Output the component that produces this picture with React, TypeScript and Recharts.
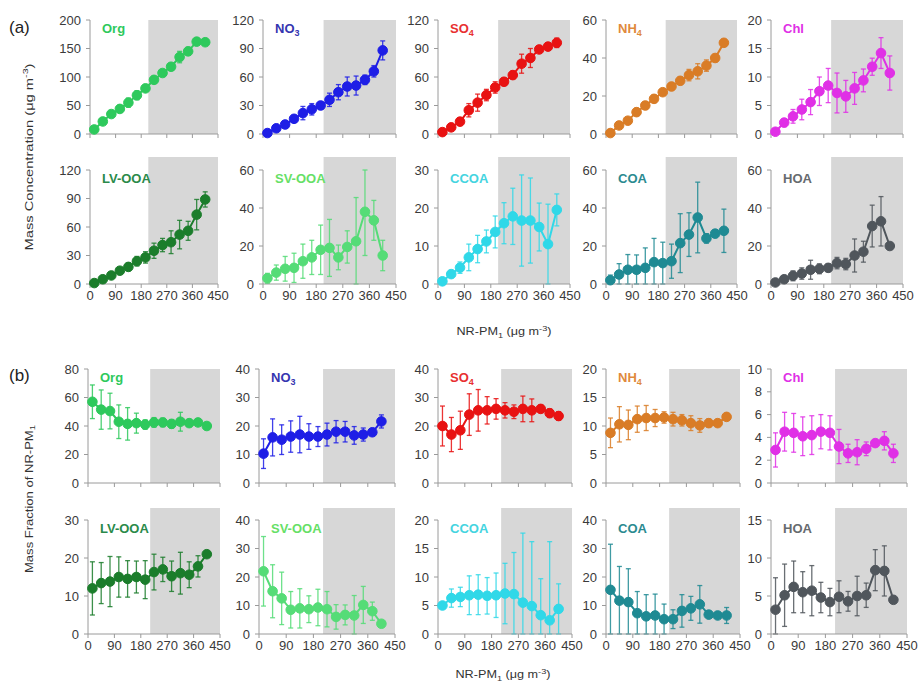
import React from 'react';
import { ComposedChart, Line, XAxis, YAxis, ErrorBar, ReferenceArea } from 'recharts';

// NR-PM1 bin centres (ug m-3)
const nrpmBins = [15, 45, 75, 105, 135, 165, 195, 225, 255, 285, 315, 345, 375, 405];
const xTicks = [0, 90, 180, 270, 360, 450];

// (a) mass concentration
const orgConc = [8, 22, 35, 44, 55, 68, 80, 95, 107, 118, 135, 145, 162, 161];
const orgConcErr = [4, 4, 5, 5, 8, 8, 5, 6, 6, 6, 10, 7, 5, 5];
const no3Conc = [1, 6, 10, 16, 22, 26, 30, 36, 44, 50, 51, 57, 66, 88];
const no3ConcErr = [1, 2, 2, 3, 7, 6, 4, 7, 8, 10, 10, 5, 6, 10];
const so4Conc = [2, 7, 13, 25, 33, 41, 49, 55, 62, 74, 80, 89, 92, 96];
const so4ConcErr = [2, 3, 4, 7, 9, 6, 6, 4, 4, 10, 10, 3, 4, 5];
const nh4Conc = [0.5, 4.5, 7, 11.5, 15, 18.5, 22, 25, 28, 31, 33, 36, 40, 48];
const nh4ConcErr = [0.5, 1, 1.5, 2, 2, 2, 1.5, 2, 2, 3, 4, 3, 2, 1.5];
const chlConc = [0.4, 2, 3.1, 4.3, 5.6, 7.5, 8.5, 7.2, 6.6, 8, 9.4, 11.8, 14.2, 10.7];
const chlConcErr = [0.3, 0.7, 1.2, 1.8, 2.2, 2.5, 3, 3.5, 2.8, 2.8, 2, 1.5, 2.7, 3];
const lvooaConc = [1, 5, 9, 14, 18, 24, 28, 35, 41, 44, 52, 56, 73, 89];
const lvooaConcErr = [1, 1, 2, 3, 4, 5, 6, 8, 7, 12, 15, 10, 16, 8];
const svooaConc = [3, 6, 8, 8.5, 12, 14, 18, 19, 14, 19.5, 22.5, 38, 33.5, 15];
const svooaConcErr = [2.6, 4, 6.5, 7.7, 9, 9, 13, 15, 6.5, 8.5, 23, 23, 10.5, 8];
const ccoaConc = [0.7, 2.6, 4.3, 7, 9.2, 11.2, 13.7, 16, 17.8, 16.7, 16.7, 15, 10.5, 19.5];
const ccoaConcErr = [0.3, 0.8, 1.5, 3.5, 3.6, 3, 4.2, 5.4, 7.4, 12, 11.2, 6.3, 10.5, 4.2];
const coaConc = [2, 5, 7.5, 7.5, 8.5, 11.5, 11, 12, 21.5, 26, 35, 24, 26.5, 28];
const coaConcErr = [2.7, 5.7, 8, 7.8, 10.5, 12.5, 11, 9, 15.5, 11.5, 18.6, 2.5, 2, 11.4];
const hoaConc = [0.8, 2.5, 4.3, 5.5, 7.5, 8, 8.5, 11, 10.5, 15, 17, 30.5, 33, 20];
const hoaConcErr = [0.5, 1, 2.6, 3, 5, 2.6, 2, 3, 3, 8.7, 5.5, 11, 13, 1.5];

// (b) mass fraction of NR-PM1 (%)
const orgFrac = [57, 51.5, 50.5, 43, 41.5, 42, 41, 42.5, 42.5, 41.5, 43, 42, 42.5, 40];
const orgFracErr = [11.8, 13.8, 12.5, 11.8, 11.4, 7, 3.3, 3.4, 3, 3, 6.6, 2.3, 2, 1.5];
const no3Frac = [10.3, 16, 15.2, 16.3, 17, 16.3, 16.3, 17, 18, 18, 16.7, 17, 17.8, 21.6];
const no3FracErr = [5.2, 6.5, 5.2, 5.5, 6.4, 4.5, 3.5, 4, 3.9, 3.6, 3.1, 2.3, 0.9, 2.3];
const so4Frac = [20, 17, 18.5, 24, 25.5, 25.5, 26, 25.5, 25, 26, 25.5, 26, 24.5, 23.5];
const so4FracErr = [7, 6, 6.7, 7.3, 7.3, 4.8, 3.6, 2.7, 2.4, 4.5, 4, 1.3, 1.5, 1.5];
const nh4Frac = [8.8, 10.3, 10.2, 11.2, 11.4, 11.4, 11.5, 11.2, 11, 10.5, 10.1, 10.5, 10.5, 11.6];
const nh4FracErr = [2.6, 3.1, 2.6, 2.3, 2.2, 1.5, 1, 1.2, 1, 1.3, 1.2, 0.7, 0.5, 0.4];
const chlFrac = [2.9, 4.5, 4.4, 4.1, 4.2, 4.5, 4.4, 3.2, 2.6, 2.7, 3, 3.5, 3.7, 2.6];
const chlFracErr = [1.5, 1.7, 1.7, 1.7, 1.7, 1.5, 1.5, 1.5, 0.8, 1.1, 0.6, 0.3, 0.8, 0.8];
const lvooaFrac = [12, 13.4, 13.8, 15, 14.5, 15, 14.3, 16.3, 17, 15.2, 16, 15.6, 17.8, 21];
const lvooaFracErr = [7, 5.4, 6.6, 5.3, 4.8, 4.2, 5, 4.7, 3.2, 4, 5.5, 3.4, 2.8, 0.8];
const svooaFrac = [22, 15, 12.5, 8.5, 9, 8.7, 9.3, 8.7, 6, 6.7, 6.5, 10.2, 8, 3.6];
const svooaFracErr = [12.2, 9.3, 9.2, 6.4, 6.9, 4.7, 6.4, 6.2, 4.3, 3.5, 7, 6.5, 3.2, 0.8];
const ccoaFrac = [5, 6.3, 6.5, 6.8, 6.9, 6.7, 6.8, 7.1, 7, 5.5, 4.9, 3.3, 2.4, 4.4];
const ccoaFracErr = [0.3, 1.6, 1.7, 3.4, 3.5, 3.2, 3.9, 5.3, 7.3, 12.2, 11.3, 6.4, 13.8, 4.4];
const coaFrac = [15.5, 11.7, 11.2, 7.3, 6.2, 6.5, 5.2, 5.2, 8.1, 9, 10.4, 6.8, 6.5, 6.5];
const coaFracErr = [16, 12, 11.7, 7.6, 7.6, 7.5, 5.3, 3.3, 5.7, 4.2, 6.6, 0.8, 0.8, 2.8];
const hoaFrac = [3.2, 5.1, 6.2, 5.5, 5.7, 4.8, 4.2, 4.9, 4.3, 5, 5.1, 8.4, 8.3, 4.5];
const hoaFracErr = [4.2, 4.1, 3.4, 2.7, 3.3, 2, 1.8, 2.1, 1.3, 2.6, 1.6, 2.7, 3.3, 0.4];

const FONT = '"Liberation Sans", Arial, Helvetica, sans-serif';

type PanelDef = {
  name: string;
  sub?: string;
  color: string;
  labelColor: string;
  values: number[];
  errs: number[];
  yTicks: number[];
};

const C = {
  org: '#2ec95c',
  no3: '#1e1ee6',
  so4: '#e81212',
  nh4: '#d97c26',
  chl: '#e030e6',
  lvooa: '#1b7d2b',
  svooa: '#55dc77',
  ccoa: '#30d8e8',
  coa: '#1f8a93',
  hoa: '#50565c',
};

const concRow1: PanelDef[] = [
  { name: 'Org', color: C.org, labelColor: C.org, values: orgConc, errs: orgConcErr, yTicks: [0, 50, 100, 150, 200] },
  { name: 'NO', sub: '3', color: C.no3, labelColor: '#3535b0', values: no3Conc, errs: no3ConcErr, yTicks: [0, 30, 60, 90, 120] },
  { name: 'SO', sub: '4', color: C.so4, labelColor: '#e83030', values: so4Conc, errs: so4ConcErr, yTicks: [0, 30, 60, 90, 120] },
  { name: 'NH', sub: '4', color: C.nh4, labelColor: '#e08a3c', values: nh4Conc, errs: nh4ConcErr, yTicks: [0, 20, 40, 60] },
  { name: 'Chl', color: C.chl, labelColor: C.chl, values: chlConc, errs: chlConcErr, yTicks: [0, 5, 10, 15, 20] },
];
const concRow2: PanelDef[] = [
  { name: 'LV-OOA', color: C.lvooa, labelColor: '#2a8a4a', values: lvooaConc, errs: lvooaConcErr, yTicks: [0, 30, 60, 90, 120] },
  { name: 'SV-OOA', color: C.svooa, labelColor: '#66e066', values: svooaConc, errs: svooaConcErr, yTicks: [0, 20, 40, 60] },
  { name: 'CCOA', color: C.ccoa, labelColor: '#44d4e0', values: ccoaConc, errs: ccoaConcErr, yTicks: [0, 10, 20, 30] },
  { name: 'COA', color: C.coa, labelColor: '#2a8a90', values: coaConc, errs: coaConcErr, yTicks: [0, 20, 40, 60] },
  { name: 'HOA', color: C.hoa, labelColor: '#666a6e', values: hoaConc, errs: hoaConcErr, yTicks: [0, 20, 40, 60] },
];
const fracRow1: PanelDef[] = [
  { name: 'Org', color: C.org, labelColor: C.org, values: orgFrac, errs: orgFracErr, yTicks: [0, 20, 40, 60, 80] },
  { name: 'NO', sub: '3', color: C.no3, labelColor: '#3535b0', values: no3Frac, errs: no3FracErr, yTicks: [0, 10, 20, 30, 40] },
  { name: 'SO', sub: '4', color: C.so4, labelColor: '#e83030', values: so4Frac, errs: so4FracErr, yTicks: [0, 10, 20, 30, 40] },
  { name: 'NH', sub: '4', color: C.nh4, labelColor: '#e08a3c', values: nh4Frac, errs: nh4FracErr, yTicks: [0, 5, 10, 15, 20] },
  { name: 'Chl', color: C.chl, labelColor: C.chl, values: chlFrac, errs: chlFracErr, yTicks: [0, 2, 4, 6, 8, 10] },
];
const fracRow2: PanelDef[] = [
  { name: 'LV-OOA', color: C.lvooa, labelColor: '#2a8a4a', values: lvooaFrac, errs: lvooaFracErr, yTicks: [0, 10, 20, 30] },
  { name: 'SV-OOA', color: C.svooa, labelColor: '#66e066', values: svooaFrac, errs: svooaFracErr, yTicks: [0, 10, 20, 30, 40] },
  { name: 'CCOA', color: C.ccoa, labelColor: '#44d4e0', values: ccoaFrac, errs: ccoaFracErr, yTicks: [0, 5, 10, 15, 20] },
  { name: 'COA', color: C.coa, labelColor: '#2a8a90', values: coaFrac, errs: coaFracErr, yTicks: [0, 10, 20, 30, 40] },
  { name: 'HOA', color: C.hoa, labelColor: '#666a6e', values: hoaFrac, errs: hoaFracErr, yTicks: [0, 5, 10, 15] },
];

// layout: left/right ends of each panel's x axis, top of each row's y axis
const colsA = [[90, 218], [263, 396], [438, 570], [606, 737], [771, 903]];
const colsB = [[88, 220], [259, 395], [438, 572], [606, 740], [771, 907]];
const rows = [
  { panels: concRow1, top: 20, cols: colsA, showX: false, shade: 205, lift: 0 },
  { panels: concRow2, top: 170, cols: colsA, showX: true, shade: 205, lift: 13 },
  { panels: fracRow1, top: 369, cols: colsB, showX: false, shade: 212, lift: 0 },
  { panels: fracRow2, top: 520, cols: colsB, showX: true, shade: 212, lift: 12 },
];

const PLOT_H = 114;
const MT = 20;
const YW = 32;
const XH = 24;
const MR = 13;
const axisColor = '#9a9a9a';
const tickStyle = { fill: '#3a3a3a', fontSize: 13, fontFamily: FONT };

function Panel({ def, axisX, axisEnd, top, showX, shade, lift }: {
  def: PanelDef; axisX: number; axisEnd: number; top: number; showX: boolean; shade: number; lift: number;
}) {
  const plotW = axisEnd - axisX;
  const yMax = def.yTicks[def.yTicks.length - 1];
  // error bars are cut at the plot frame, as in the original figure
  const data = nrpmBins.map((x, i) => {
    const v = def.values[i];
    const e = def.errs[i];
    return { x, v, err: [Math.min(e, v), Math.min(e, yMax - v)] };
  });
  return (
    <div style={{ position: 'absolute', left: axisX - YW, top: top - MT }}>
      <ComposedChart
        width={YW + plotW + MR}
        height={MT + PLOT_H + XH}
        data={data}
        margin={{ top: MT, right: MR, left: 0, bottom: 0 }}
      >
        <XAxis
          dataKey="x"
          type="number"
          domain={[0, 450]}
          ticks={xTicks}
          interval={0}
          allowDataOverflow
          height={XH}
          stroke={axisColor}
          tickSize={4}
          tickMargin={3}
          tick={tickStyle}
          tickFormatter={(t: number) => (showX ? String(t) : '')}
        />
        <YAxis
          type="number"
          domain={[0, yMax]}
          ticks={def.yTicks}
          interval={0}
          allowDataOverflow
          width={YW}
          stroke={axisColor}
          tickSize={4}
          tickMargin={5}
          tick={tickStyle}
        />
        <ReferenceArea
          x1={shade}
          x2={450}
          y1={0}
          y2={yMax * (1 + lift / PLOT_H)}
          fill="#d7d7d7"
          fillOpacity={1}
          stroke="none"
          ifOverflow="visible"
        />
        <Line
          dataKey="v"
          type="linear"
          stroke={def.color}
          strokeWidth={2}
          dot={{ r: 4.8, fill: def.color, stroke: def.color, strokeWidth: 1, clipDot: false }}
          activeDot={false}
          isAnimationActive={false}
        >
          <ErrorBar dataKey="err" direction="y" width={2.5} stroke={def.color} strokeWidth={1.3} strokeOpacity={0.85} />
        </Line>
      </ComposedChart>
    </div>
  );
}

export default function App() {
  return (
    <div style={{ position: 'absolute', left: 0, top: 0, width: 920, height: 684, background: '#fff', overflow: 'hidden', fontFamily: FONT }}>
      {rows.map((row, ri) =>
        row.panels.map((p, ci) => (
          <Panel
            key={`${ri}-${ci}`}
            def={p}
            axisX={row.cols[ci][0]}
            axisEnd={row.cols[ci][1]}
            top={row.top}
            showX={row.showX}
            shade={row.shade}
            lift={row.lift}
          />
        ))
      )}
      <svg width={920} height={684} style={{ position: 'absolute', left: 0, top: 0, pointerEvents: 'none' }} fontFamily={FONT}>
        {rows.map((row, ri) =>
          row.panels.map((p, ci) => (
            <text key={`l-${ri}-${ci}`} x={row.cols[ci][0] + 12} y={row.top + 13} fill={p.labelColor} fontSize={13} fontWeight="bold">
              {p.name}
              {p.sub ? <tspan fontSize={9} dy={3}>{p.sub}</tspan> : null}
            </text>
          ))
        )}
        <text x={9} y={33} fontSize={17} fill="#222">(a)</text>
        <text x={9} y={381} fontSize={17} fill="#222">(b)</text>
        <text x={29} y={157} transform="rotate(-90 29 157)" textAnchor="middle" dominantBaseline="central" fontSize={11} fill="#333" textLength={187} lengthAdjust="spacingAndGlyphs">
          Mass Concentration (μg m<tspan dy={-4} fontSize={8}>-3</tspan><tspan dy={4}>)</tspan>
        </text>
        <text x={29} y={499} transform="rotate(-90 29 499)" textAnchor="middle" dominantBaseline="central" fontSize={11} fill="#333" textLength={148} lengthAdjust="spacingAndGlyphs">
          Mass Fraction of NR-PM<tspan dy={3} fontSize={8}>1</tspan>
        </text>
        <text x={504} y={335} textAnchor="middle" fontSize={11} fill="#333" textLength={95} lengthAdjust="spacingAndGlyphs">
          NR-PM<tspan dy={3} fontSize={8}>1</tspan><tspan dy={-3}> (μg m</tspan><tspan dy={-4} fontSize={8}>-3</tspan><tspan dy={4}>)</tspan>
        </text>
        <text x={503} y={678} textAnchor="middle" fontSize={11} fill="#333" textLength={95} lengthAdjust="spacingAndGlyphs">
          NR-PM<tspan dy={3} fontSize={8}>1</tspan><tspan dy={-3}> (μg m</tspan><tspan dy={-4} fontSize={8}>-3</tspan><tspan dy={4}>)</tspan>
        </text>
      </svg>
    </div>
  );
}
